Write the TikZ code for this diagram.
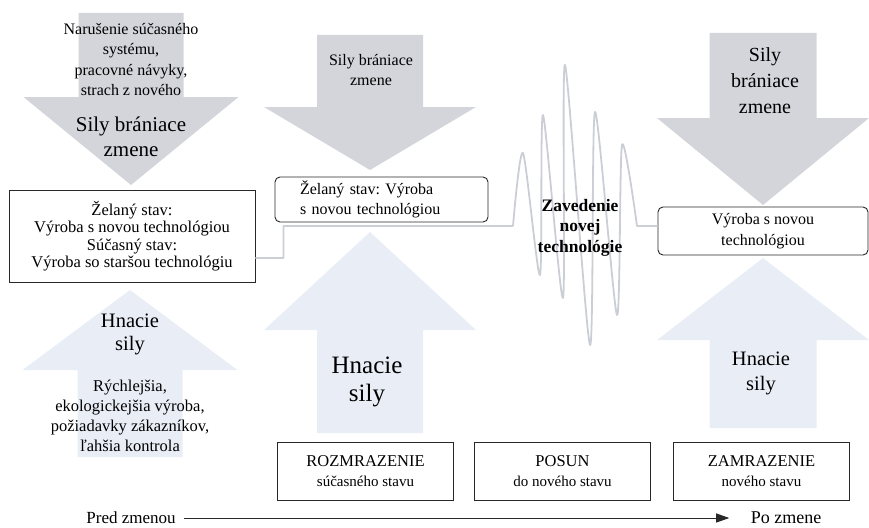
\documentclass[tikz,border=0pt]{standalone}
\usepackage{fontspec}
\setmainfont{Liberation Serif}
\usetikzlibrary{arrows.meta}
\frenchspacing

\definecolor{restrain}{RGB}{211,213,219}
\definecolor{drive}{RGB}{233,237,245}
\definecolor{wavegray}{RGB}{203,206,213}
\definecolor{frame}{RGB}{40,40,40}
\newcommand{\fsz}[2]{\fontsize{#1}{#2}\selectfont}

\begin{document}
\begin{tikzpicture}[x=1pt,y=-1pt,
    forcedown/.style={fill=restrain},
    forceup/.style={fill=drive},
    stavbox/.style={draw=frame,fill=white,line width=0.9pt,inner sep=0pt,align=center},
    phasebox/.style={stavbox,minimum width=176pt,minimum height=58pt,font=\fsz{16.5}{20}},
    waveline/.style={draw=wavegray,line width=1.8pt,line join=round}]
  \useasboundingbox (0,0) rectangle (869,527);

  % sily branace zmene (sipky dole)
  \fill[forcedown] (78.5,13) -- (183.5,13) -- (183.5,97) -- (238.5,97) -- (131,185) -- (23.5,97) -- (78.5,97) -- cycle;
  \fill[forcedown] (317,35) -- (423,35) -- (423,107) -- (476,107) -- (370,170) -- (264,107) -- (317,107) -- cycle;
  \fill[forcedown] (709.5,33) -- (816.5,33) -- (816.5,118) -- (869,118) -- (763,205) -- (657,118) -- (709.5,118) -- cycle;

  % hnacie sily (sipky hore)
  \fill[forceup] (77.5,457) -- (182.5,457) -- (182.5,370) -- (237.5,370) -- (130,290) -- (22.5,370) -- (77.5,370) -- cycle;
  \fill[forceup] (317,433) -- (423,433) -- (423,330) -- (476,330) -- (370,232) -- (264,330) -- (317,330) -- cycle;
  \fill[forceup] (709.5,428) -- (816.5,428) -- (816.5,340) -- (869,340) -- (763,258) -- (657,340) -- (709.5,340) -- cycle;

  % stavy
  \node[stavbox,minimum width=246pt,minimum height=92pt,font=\fsz{16.5}{17.5}] (povodny) at (132,236)
    {Želaný stav:\\Výroba s novou technológiou\\Súčasný stav:\\Výroba so staršou technológiu};
  \node[stavbox,rounded corners=5pt,minimum width=213pt,minimum height=45pt,text width=163pt,align=left,inner xsep=25pt,font=\fsz{16}{20}] (zelany) at (381.5,199.5)
    {Želaný stav: Výroba\\s novou technológiou};
  \node[stavbox,rounded corners=5pt,minimum width=210pt,minimum height=48pt,font=\fsz{16}{21}] (novy) at (763,231)
    {Výroba s novou\\technológiou};

  % priebeh zmeny
  \draw[waveline] ([yshift=-22pt]povodny.east) -- ++(28,0) -- ++(0,-32) -- (513,226)
    plot[smooth,tension=0.45] coordinates {(513,226) (523,153) (540,275) (543,115) (563,298)
      (565,65) (590,345) (595,112) (617,315) (622,145) (637,226)}
    -- (novy.west |- 637,226);
  \node[font=\bfseries\fsz{17.5}{20.5},align=center] (zavedenie) at (580,227.5) {Zavedenie\\novej\\technológie};

  % texty v sipkach
  \node[font=\fsz{16}{20.5},align=center] (brzdy) at (131,59.5) {Narušenie súčasného\\systému,\\pracovné návyky,\\strach z nového};
  \node[font=\fsz{21}{25},align=center] (sily1) at (131,136.5) {Sily brániace\\zmene};
  \node[font=\fsz{16}{20},align=center] (sily2) at (371,70.5) {Sily brániace\\zmene};
  \node[font=\fsz{20}{26},align=center] (sily3) at (765,80.5) {Sily\\brániace\\zmene};
  \node[font=\fsz{20.5}{23},align=center] (hnacie1) at (130,334) {Hnacie\\sily};
  \node[font=\fsz{16.5}{20},align=center] (dovody) at (130,415.5) {Rýchlejšia,\\ekologickejšia výroba,\\požiadavky zákazníkov,\\ľahšia kontrola};
  \node[font=\fsz{25}{28},align=center] (hnacie2) at (367,382) {Hnacie\\sily};
  \node[font=\fsz{20.5}{25},align=center] (hnacie3) at (761,373.5) {Hnacie\\sily};

  % faza
  \node[phasebox] (rozmrazenie) at (365.5,471) {ROZMRAZENIE\\\fsz{15}{20}súčasného stavu};
  \node[phasebox] (posun) at (562.5,471) {POSUN\\\fsz{15}{20}do nového stavu};
  \node[phasebox] (zamrazenie) at (761.5,471) {ZAMRAZENIE\\\fsz{15}{20}nového stavu};

  % casova os
  \node[font=\fsz{17}{18}] (pred) at (131,518) {Pred zmenou};
  \node[font=\fsz{18}{20}] (po) at (786,518) {Po zmene};
  \draw[draw=frame,line width=0.9pt,-{Triangle[length=13pt,width=9pt]},shorten <=5pt,shorten >=18pt] (pred.east) -- (po.west);
\end{tikzpicture}
\end{document}
